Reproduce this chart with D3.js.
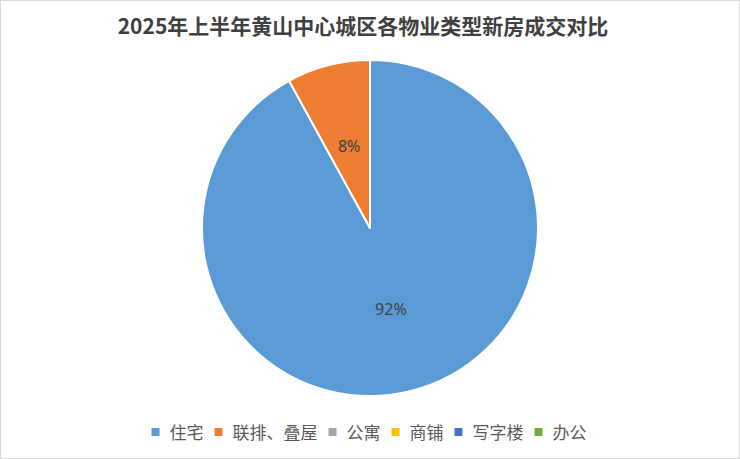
<!DOCTYPE html>
<html><head><meta charset="utf-8">
<script src="https://cdn.jsdelivr.net/npm/d3@7"></script>
<style>html,body{margin:0;padding:0;background:#fff;}svg{display:block;}</style>
</head><body>
<svg id="c" width="740" height="459"></svg>
<script>
const title = "2025年上半年黄山中心城区各物业类型新房成交对比";
const categories = ["住宅", "联排、叠屋", "公寓", "商铺", "写字楼", "办公"];
const values = [92, 8, 0, 0, 0, 0];
const colors = ["#5B9BD5", "#ED7D31", "#A5A5A5", "#FFC000", "#4472C4", "#70AD47"];

const W = 740, H = 459;
const svg = d3.select("#c");
svg.append("rect").attr("x", 0.5).attr("y", 0.5).attr("width", W - 1).attr("height", H - 1)
  .attr("fill", "#fff").attr("stroke", "#d9d9d9");

svg.append("text").attr("x", 363).attr("y", 34).attr("text-anchor", "middle")
  .attr("font-family", "'Noto Sans CJK SC', sans-serif").attr("font-weight", "bold")
  .attr("font-size", 21).attr("fill", "#404040").text(title);

const cx = 370, cy = 228, r = 168;
const data = categories.map((c, i) => ({ name: c, value: values[i], color: colors[i] }));
const pie = d3.pie().sort(null).value(d => d.value);
const arcs = pie(data);
const arc = d3.arc().innerRadius(0).outerRadius(r);
const labelArc = d3.arc().innerRadius(r * 0.5).outerRadius(r * 0.5);
const total = d3.sum(values);

const g = svg.append("g").attr("transform", `translate(${cx},${cy})`);
g.selectAll("path").data(arcs.filter(d => d.data.value > 0)).join("path")
  .attr("d", arc).attr("fill", d => d.data.color)
  .attr("stroke", "#fff").attr("stroke-width", 2).attr("stroke-linejoin", "round");

g.selectAll("text.lbl").data(arcs.filter(d => d.data.value > 0)).join("text")
  .attr("class", "lbl")
  .attr("transform", d => `translate(${labelArc.centroid(d)})`)
  .attr("text-anchor", "middle").attr("dy", "0.35em")
  .attr("font-family", "'Noto Sans', 'Open Sans', sans-serif").attr("font-size", 16)
  .attr("fill", "#404040")
  .text(d => d3.format(".0%")(d.data.value / total));

// legend
const lg = svg.append("g");
const fs = 17, sq = 8, gapT = 10, gapI = 11;
const items = lg.selectAll("g").data(data).join("g");
items.append("rect").attr("width", sq).attr("height", sq).attr("y", -sq / 2 - 1)
  .attr("fill", d => d.color);
items.append("text").attr("x", sq + gapT).attr("dy", "0.35em")
  .attr("font-family", "'Noto Sans CJK SC', sans-serif").attr("font-size", fs)
  .attr("fill", "#595959").text(d => d.name);
let x = 0;
items.each(function () {
  const w = this.querySelector("text").getComputedTextLength();
  d3.select(this).attr("transform", `translate(${x},0)`);
  x += sq + gapT + w + gapI;
});
const totalW = x - gapI;
lg.attr("transform", `translate(${369 - totalW / 2},433)`);
</script>
</body></html>
